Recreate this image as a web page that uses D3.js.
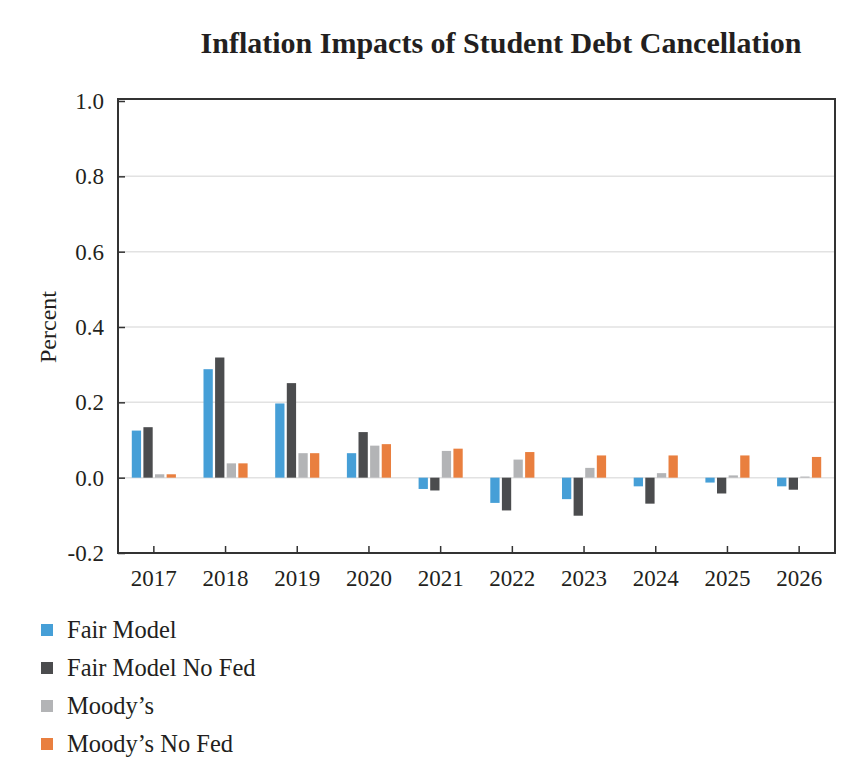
<!DOCTYPE html>
<html>
<head>
<meta charset="utf-8">
<script src="https://cdn.jsdelivr.net/npm/d3@7"></script>
<style>
  body { margin: 0; background: #fff; }
  text { font-family: "Liberation Serif", "DejaVu Serif", serif; fill: #231f20; }
</style>
</head>
<body>
<svg width="864" height="770"></svg>
<script>
(function (d3) {
    'use strict';

    // data
    const years = ['2017', '2018', '2019', '2020', '2021', '2022', '2023', '2024', '2025', '2026'];
    const seriesNames = ['Fair Model', 'Fair Model No Fed', 'Moody\u2019s', 'Moody\u2019s No Fed'];
    const fairModel = [0.125, 0.288, 0.197, 0.065, -0.030, -0.067, -0.057, -0.023, -0.013, -0.023];
    const fairModelNoFed = [0.134, 0.319, 0.251, 0.121, -0.034, -0.087, -0.101, -0.069, -0.042, -0.032];
    const moodys = [0.009, 0.038, 0.065, 0.085, 0.071, 0.048, 0.026, 0.012, 0.006, 0.003];
    const moodysNoFed = [0.009, 0.038, 0.065, 0.089, 0.077, 0.068, 0.059, 0.059, 0.059, 0.055];
    const yTicks = [-0.2, 0.0, 0.2, 0.4, 0.6, 0.8, 1.0];
    const colors = ['#469fd7', '#4b4c4e', '#b3b4b6', '#e97f3f'];

    const seriesValues = [fairModel, fairModelNoFed, moodys, moodysNoFed];

    const svg = d3.select('svg');

    const left = 118, right = 835, top = 101, bottom = 553;

    const x = d3.scaleBand()
        .domain(years)
        .range([left, right])
        .paddingInner(0.32)
        .paddingOuter(0.16);

    const x1 = d3.scaleBand()
        .domain(d3.range(seriesNames.length))
        .range([0, x.bandwidth()])
        .padding(0.2);

    const y = d3.scaleLinear()
        .domain([-0.2, 1.0])
        .range([bottom, top]);

    // title
    svg.append('text')
        .attr('x', 501)
        .attr('y', 53)
        .attr('text-anchor', 'middle')
        .style('font-size', '30px')
        .style('font-weight', 'bold')
        .text('Inflation Impacts of Student Debt Cancellation');

    // gridlines
    svg.append('g')
        .selectAll('line')
        .data(yTicks.filter(t => t > -0.2 && t < 1.0))
        .join('line')
        .attr('x1', left)
        .attr('x2', right)
        .attr('y1', d => y(d))
        .attr('y2', d => y(d))
        .attr('stroke', '#e2e2e2')
        .attr('stroke-width', 1.5);

    // bars
    const groups = svg.append('g')
        .selectAll('g')
        .data(years)
        .join('g')
        .attr('transform', d => `translate(${x(d)},0)`);

    groups.selectAll('rect')
        .data((d, i) => seriesValues.map((vals, s) => ({ s: s, v: vals[i] })))
        .join('rect')
        .attr('x', d => x1(d.s))
        .attr('width', x1.bandwidth())
        .attr('y', d => y(Math.max(0, d.v)))
        .attr('height', d => Math.abs(y(d.v) - y(0)))
        .attr('fill', d => colors[d.s]);

    // frame
    svg.append('rect')
        .attr('x', left)
        .attr('y', top - 2)
        .attr('width', right - left)
        .attr('height', bottom - top + 2)
        .attr('fill', 'none')
        .attr('stroke', '#333')
        .attr('stroke-width', 2);

    // y axis, ticks pointing inward
    const yAxis = svg.append('g')
        .attr('transform', `translate(${left},0)`)
        .call(d3.axisRight(y).tickValues(yTicks).tickSize(7)
            .tickFormat(d => d.toFixed(1)));
    yAxis.select('.domain').remove();
    yAxis.selectAll('line').attr('stroke', '#333').attr('stroke-width', 1.5);
    yAxis.selectAll('text')
        .attr('x', -14)
        .attr('text-anchor', 'end')
        .style('font-size', '23px')
        .attr('fill', '#231f20');

    // x axis, ticks pointing up
    const xAxis = svg.append('g')
        .attr('transform', `translate(0,${bottom})`)
        .call(d3.axisTop(x).tickSize(7));
    xAxis.select('.domain').remove();
    xAxis.selectAll('line').attr('stroke', '#333').attr('stroke-width', 1.5);
    xAxis.selectAll('text')
        .attr('y', 33)
        .style('font-size', '23px')
        .attr('fill', '#231f20');

    // y label
    svg.append('text')
        .attr('transform', 'translate(56,327) rotate(-90)')
        .attr('text-anchor', 'middle')
        .style('font-size', '24px')
        .text('Percent');

    // legend
    const legend = svg.append('g')
        .selectAll('g')
        .data(seriesNames)
        .join('g')
        .attr('transform', (d, i) => `translate(41,${630 + i * 38})`);

    legend.append('rect')
        .attr('x', 0)
        .attr('y', -6)
        .attr('width', 12)
        .attr('height', 12)
        .attr('fill', (d, i) => colors[i]);

    legend.append('text')
        .attr('x', 26)
        .attr('y', 8)
        .style('font-size', '24.5px')
        .text(d => d);

}(d3));
</script>
</body>
</html>
